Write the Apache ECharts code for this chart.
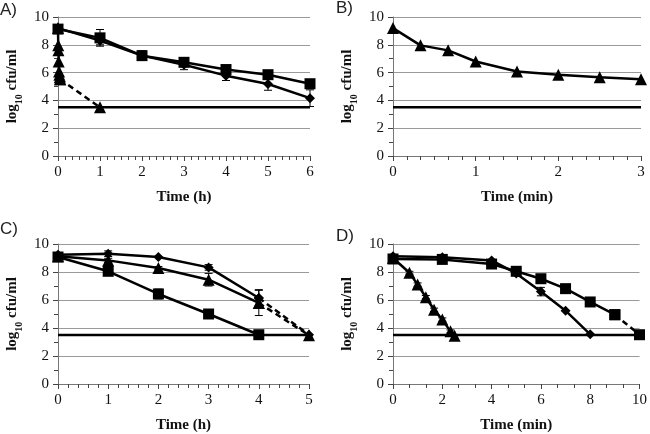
<!DOCTYPE html>
<html><head><meta charset="utf-8">
<script src="https://cdn.jsdelivr.net/npm/echarts@6/dist/echarts.min.js"></script>
<style>html,body{margin:0;padding:0;background:#fff}#c{width:650px;height:434px}</style>
</head><body><div id="c"></div>
<script>
// ---------- DATA ----------
const lod = 3.5;
const yTicks = [0, 2, 4, 6, 8, 10];

// Panel A (h)
const aTime = [0, 1, 2, 3, 4, 5, 6];
const aSquare = [9.13, 8.5, 7.22, 6.74, 6.22, 5.85, 5.2];
const aSquareErr = [0.1, 0.6, 0.1, 0.12, 0.2, 0.2, 0.3];
const aDiamond = [9.2, 8.3, 7.22, 6.56, 5.78, 5.18, 4.16];
const aDiamondErr = [0, 0.3, 0.35, 0.35, 0.35, 0.45, 0.6];
const aTriTime = [0, 0.0056, 0.0111, 0.0167, 0.025, 0.0333, 0.0417, 0.05, 1];
const aTriangle = [9.2, 7.96, 7.6, 6.8, 6.08, 5.84, 5.67, 5.53, 3.5];

// Panel B (min)
const bTime = [0, 0.333, 0.667, 1, 1.5, 2, 2.5, 3];
const bTriangle = [9.2, 7.96, 7.6, 6.8, 6.08, 5.84, 5.67, 5.53];

// Panel C (h)
const cTime = [0, 1, 2, 3, 4, 5];
const cDiamond = [9.24, 9.31, 9.07, 8.33, 6.14, 3.52];
const cDiamondErr = [0, 0.2, 0, 0.2, 0.6, 0];
const cTriangle = [9.12, 8.83, 8.29, 7.45, 5.79, 3.48];
const cTriangleErr = [0, 0.15, 0.1, 0.45, 0.9, 0];
const cSqTime = [0, 1, 2, 3, 4];
const cSquare = [9.07, 8.05, 6.43, 5.0, 3.52];
const cSquareErr = [0, 0.15, 0.35, 0.3, 0];

// Panel D (min)
const dTriTime = [0, 0.667, 1, 1.333, 1.667, 2, 2.333, 2.5];
const dTriangle = [9.0, 7.95, 7.1, 6.2, 5.3, 4.6, 3.76, 3.45];
const dTriangleErr = [0, 0.1, 0.12, 0.12, 0.12, 0.12, 0.1, 0];
const dDiaTime = [0, 2, 4, 5, 6, 7, 8];
const dDiamond = [9.12, 9.05, 8.83, 7.9, 6.6, 5.24, 3.55];
const dDiamondErr = [0, 0, 0, 0, 0.3, 0, 0];
const dSqTime = [0, 2, 4, 5, 6, 7, 8, 9, 10];
const dSquare = [8.93, 8.9, 8.57, 8.05, 7.52, 6.81, 5.86, 4.95, 3.52];

// ---------- STYLE / BUILD ----------
const serif = '"Liberation Serif", "DejaVu Serif", serif';
const gridCol = '#9a9a9a';
const axisCol = '#444';
const grids = [
  {left: 58, top: 17, width: 252, height: 139},
  {left: 393, top: 17, width: 248, height: 139},
  {left: 58, top: 244, width: 251, height: 140},
  {left: 393, top: 244, width: 250, height: 140}
];
const xCfg = [
  {max: 6, interval: 1, minor: 6, name: 'Time (h)'},
  {max: 3, interval: 1, minor: 6, name: 'Time (min)'},
  {max: 5, interval: 1, minor: 5, name: 'Time (h)'},
  {max: 10, interval: 2, minor: 3, name: 'Time (min)'}
];

const xAxes = xCfg.map((c, i) => ({
  type: 'value', gridIndex: i, min: 0, max: c.max, interval: c.interval,
  name: c.name, nameLocation: 'middle', nameGap: 34,
  nameTextStyle: {fontFamily: serif, fontWeight: 'bold', fontSize: 15, color: '#111'},
  axisLine: {show: true, onZero: false, lineStyle: {color: '#777', width: 1}},
  axisTick: {show: true, length: 5, lineStyle: {color: axisCol, width: 1}},
  minorTick: {show: true, splitNumber: c.minor, length: 4, lineStyle: {color: axisCol, width: 1}},
  axisLabel: {fontFamily: serif, fontSize: 15, color: '#111', margin: 9},
  splitLine: {show: false}
}));
const yAxes = grids.map((g, i) => ({
  type: 'value', gridIndex: i, min: yTicks[0], max: yTicks[yTicks.length - 1], interval: yTicks[1] - yTicks[0],
  name: '{b|log}{s|10}{b| cfu/ml}', nameLocation: 'middle', nameGap: 34, nameRotate: 90,
  nameTextStyle: {
    rich: {
      b: {fontFamily: serif, fontWeight: 'bold', fontSize: 15, color: '#111', lineHeight: 18, verticalAlign: 'middle'},
      s: {fontFamily: serif, fontWeight: 'bold', fontSize: 10, color: '#111', lineHeight: 24, verticalAlign: 'bottom'}
    }
  },
  axisLine: {show: true, lineStyle: {color: '#777', width: 1}},
  axisTick: {show: true, length: 5, lineStyle: {color: axisCol, width: 1}},
  minorTick: {show: true, splitNumber: 2, length: 4, lineStyle: {color: axisCol, width: 1}},
  axisLabel: {fontFamily: serif, fontSize: 15, color: '#111', margin: 9},
  splitLine: {show: true, lineStyle: {color: gridCol, width: 1}}
}));

const series = [];
const symSize = {rect: 11, triangle: 12, diamond: 10};
function line(i, xs, ys, sym, dashLast) {
  const pts = xs.map((x, k) => [x, ys[k]]);
  const solid = dashLast ? pts.slice(0, pts.length - 1) : pts;
  series.push({
    type: 'line', xAxisIndex: i, yAxisIndex: i, data: solid,
    symbol: sym, symbolSize: symSize[sym], showAllSymbol: true,
    lineStyle: {color: '#000', width: 2.5}, itemStyle: {color: '#000'},
    z: 5, animation: false, silent: true
  });
  if (dashLast) {
    series.push({
      type: 'line', xAxisIndex: i, yAxisIndex: i, data: pts.slice(pts.length - 2),
      symbol: sym, symbolSize: symSize[sym], showAllSymbol: true,
      lineStyle: {color: '#000', width: 2.5, type: [6, 4]}, itemStyle: {color: '#000'},
      z: 5, animation: false, silent: true
    });
  }
}
function errs(i, xs, ys, es) {
  const data = xs.map((x, k) => [x, ys[k], es[k]]).filter(d => d[2] > 0);
  series.push({
    type: 'custom', xAxisIndex: i, yAxisIndex: i, data: data, z: 6, animation: false, silent: true,
    renderItem: function (params, api) {
      const x = api.value(0), y = api.value(1), e = api.value(2);
      const p1 = api.coord([x, y + e]), p2 = api.coord([x, y - e]);
      const st = {stroke: '#000', lineWidth: 1};
      return {type: 'group', children: [
        {type: 'line', shape: {x1: p1[0], y1: p1[1], x2: p2[0], y2: p2[1]}, style: st},
        {type: 'line', shape: {x1: p1[0] - 4, y1: p1[1], x2: p1[0] + 4, y2: p1[1]}, style: st},
        {type: 'line', shape: {x1: p2[0] - 4, y1: p2[1], x2: p2[0] + 4, y2: p2[1]}, style: st}
      ]};
    }
  });
}
function lodLine(i) {
  series.push({
    type: 'line', xAxisIndex: i, yAxisIndex: i, data: [[0, lod], [xCfg[i].max, lod]],
    symbol: 'none', lineStyle: {color: '#000', width: 2.5}, z: 3, animation: false, silent: true
  });
}

// A
lodLine(0);
line(0, aTriTime, aTriangle, 'triangle', true);
line(0, aTime, aDiamond, 'diamond', false);
line(0, aTime, aSquare, 'rect', false);
errs(0, aTime, aDiamond, aDiamondErr);
errs(0, aTime, aSquare, aSquareErr);
// B
lodLine(1);
line(1, bTime, bTriangle, 'triangle', false);
// C
lodLine(2);
line(2, cTime, cDiamond, 'diamond', true);
line(2, cTime, cTriangle, 'triangle', true);
line(2, cSqTime, cSquare, 'rect', false);
errs(2, cTime, cDiamond, cDiamondErr);
errs(2, cTime, cTriangle, cTriangleErr);
errs(2, cSqTime, cSquare, cSquareErr);
// D
lodLine(3);
line(3, dTriTime, dTriangle, 'triangle', false);
line(3, dDiaTime, dDiamond, 'diamond', false);
line(3, dSqTime, dSquare, 'rect', true);
errs(3, dTriTime, dTriangle, dTriangleErr);
errs(3, dDiaTime, dDiamond, dDiamondErr);

const lblStyle = {fontFamily: '"Liberation Sans", Arial, sans-serif', fontSize: 17, fill: '#222'};
const chart = echarts.init(document.getElementById('c'), null, {renderer: 'canvas'});
chart.setOption({
  backgroundColor: '#fff',
  animation: false,
  grid: grids,
  xAxis: xAxes,
  yAxis: yAxes,
  series: series,
  graphic: [
    {type: 'text', left: 0, top: 2, style: Object.assign({text: 'A)'}, lblStyle)},
    {type: 'text', left: 336, top: 0, style: Object.assign({text: 'B)'}, lblStyle)},
    {type: 'text', left: 0, top: 221, style: Object.assign({text: 'C)'}, lblStyle)},
    {type: 'text', left: 336, top: 228, style: Object.assign({text: 'D)'}, lblStyle)}
  ]
});
</script></body></html>
